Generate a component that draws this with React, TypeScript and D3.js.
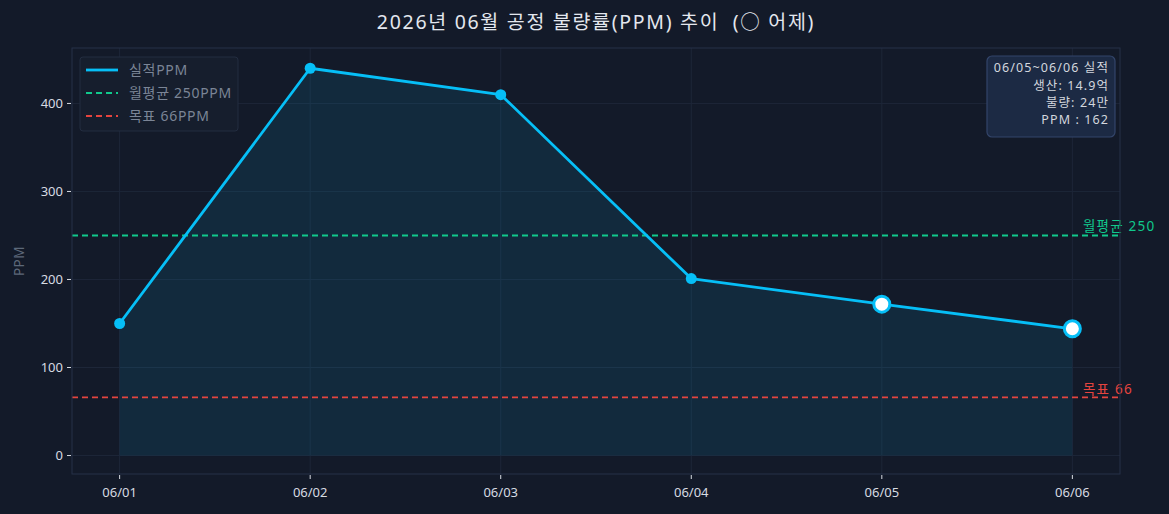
import * as d3 from "d3";

const days = ["06/01", "06/02", "06/03", "06/04", "06/05", "06/06"];
const ppm = [150, 440, 410, 201, 172, 144];
const yesterday = [false, false, false, false, true, true];
const monthAvg = 250;
const target = 66;
const yTicks = [0, 100, 200, 300, 400];
const infoLines = ["06/05~06/06 실적", "생산: 14.9억", "불량: 24만", "PPM : 162"];

const W = 1169;
const H = 514;
const FONT = "'Noto Sans', 'Noto Sans CJK KR', sans-serif";

const BG = "#131a29";
const GRID = "#1d2638";
const SPINE = "#263149";
const LINE = "#06bff7";
const GREEN = "#10c98c";
const RED = "#e5443f";
const TICK = "#d7dbe2";

export default function App() {
  const left = 72, right = 1120, top = 48, bottom = 474;

  const x = d3.scaleLinear().domain([-0.25, days.length - 1 + 0.25]).range([left, right]);
  const y = d3.scaleLinear().domain([-21, 463]).range([bottom, top]);

  const line = d3.line<number>()
    .x((_, i) => x(i))
    .y(d => y(d));

  const area = d3.area<number>()
    .x((_, i) => x(i))
    .y0(y(0))
    .y1(d => y(d));

  return (
    <svg
      width={W}
      height={H}
      style={{ position: "absolute", left: 0, top: 0, background: BG }}
      fontFamily={FONT}
    >
      <rect x={0} y={0} width={W} height={H} fill={BG} />

      {/* grid */}
      {yTicks.map(t => (
        <line key={"gy" + t} x1={left} x2={right} y1={y(t)} y2={y(t)} stroke={GRID} strokeWidth={1} />
      ))}
      {days.map((d, i) => (
        <line key={"gx" + d} x1={x(i)} x2={x(i)} y1={top} y2={bottom} stroke={GRID} strokeWidth={1} />
      ))}

      {/* area */}
      <path d={area(ppm) ?? ""} fill={LINE} fillOpacity={0.1} />

      {/* reference lines */}
      <line x1={left} x2={right} y1={y(monthAvg)} y2={y(monthAvg)} stroke={GREEN} strokeWidth={1.8} strokeDasharray="6,4" />
      <line x1={left} x2={right} y1={y(target)} y2={y(target)} stroke={RED} strokeWidth={1.8} strokeDasharray="6,4" />
      <text x={1083} y={y(monthAvg) - 4} fill={GREEN} fontSize={13.5} letterSpacing={1.2}>월평균 {monthAvg}</text>
      <text x={1083} y={y(target) - 3} fill={RED} fontSize={13.5} letterSpacing={1.2}>목표 {target}</text>

      {/* line + markers */}
      <path d={line(ppm) ?? ""} fill="none" stroke={LINE} strokeWidth={2.8} strokeLinejoin="round" />
      {ppm.map((v, i) =>
        yesterday[i] ? (
          <circle key={i} cx={x(i)} cy={y(v)} r={8} fill="#ffffff" stroke={LINE} strokeWidth={3} />
        ) : (
          <circle key={i} cx={x(i)} cy={y(v)} r={5.5} fill={LINE} />
        )
      )}

      {/* frame */}
      <rect x={left} y={top} width={right - left} height={bottom - top} fill="none" stroke={SPINE} strokeWidth={1} />

      {/* y axis */}
      {yTicks.map(t => (
        <g key={"yt" + t}>
          <line x1={left - 5} x2={left - 1} y1={y(t)} y2={y(t)} stroke={TICK} strokeWidth={1} />
          <text x={left - 9} y={y(t)} dy="0.35em" textAnchor="end" fill={TICK} fontSize={13}>{t}</text>
        </g>
      ))}
      <text transform={`translate(24,${(top + bottom) / 2}) rotate(-90)`} textAnchor="middle" fill="#5d6879" fontSize={13.5} letterSpacing={0.5}>PPM</text>

      {/* x axis */}
      {days.map((d, i) => (
        <g key={"xt" + d}>
          <line x1={x(i)} x2={x(i)} y1={bottom + 1} y2={bottom + 5} stroke={TICK} strokeWidth={1} />
          <text x={x(i)} y={bottom + 23} textAnchor="middle" fill={TICK} fontSize={13}>{d}</text>
        </g>
      ))}

      {/* title */}
      <text x={596} y={29} textAnchor="middle" fill="#e3e7ee" fontSize={19.5} letterSpacing={1.7} style={{ whiteSpace: "pre" }}>
        {"2026년 06월 공정 불량률(PPM) 추이  (○ 어제)"}
      </text>

      {/* legend */}
      <rect x={80} y={57} width={158} height={74} rx={3} fill="#161e2d" stroke="#232d40" strokeWidth={1} />
      <line x1={86} x2={118} y1={70} y2={70} stroke={LINE} strokeWidth={2.8} />
      <line x1={86} x2={118} y1={93} y2={93} stroke={GREEN} strokeWidth={1.8} strokeDasharray="6,4" />
      <line x1={86} x2={118} y1={116} y2={116} stroke={RED} strokeWidth={1.8} strokeDasharray="6,4" />
      <text x={129} y={70} dy="0.35em" fill="#7b8596" fontSize={14} letterSpacing={0.7}>실적PPM</text>
      <text x={129} y={93} dy="0.35em" fill="#7b8596" fontSize={14} letterSpacing={0.7}>월평균 250PPM</text>
      <text x={129} y={116} dy="0.35em" fill="#7b8596" fontSize={14} letterSpacing={0.7}>목표 66PPM</text>

      {/* info box */}
      <rect x={987} y={56} width={128} height={81} rx={5} fill="#1c2a44" stroke="#33456a" strokeWidth={1.2} />
      {infoLines.map((t, i) => (
        <text key={t} x={1109} y={68 + i * 17.3} dy="0.35em" textAnchor="end" fill="#d3d7de" fontSize={12.5} letterSpacing={1.1}>{t}</text>
      ))}
    </svg>
  );
}
